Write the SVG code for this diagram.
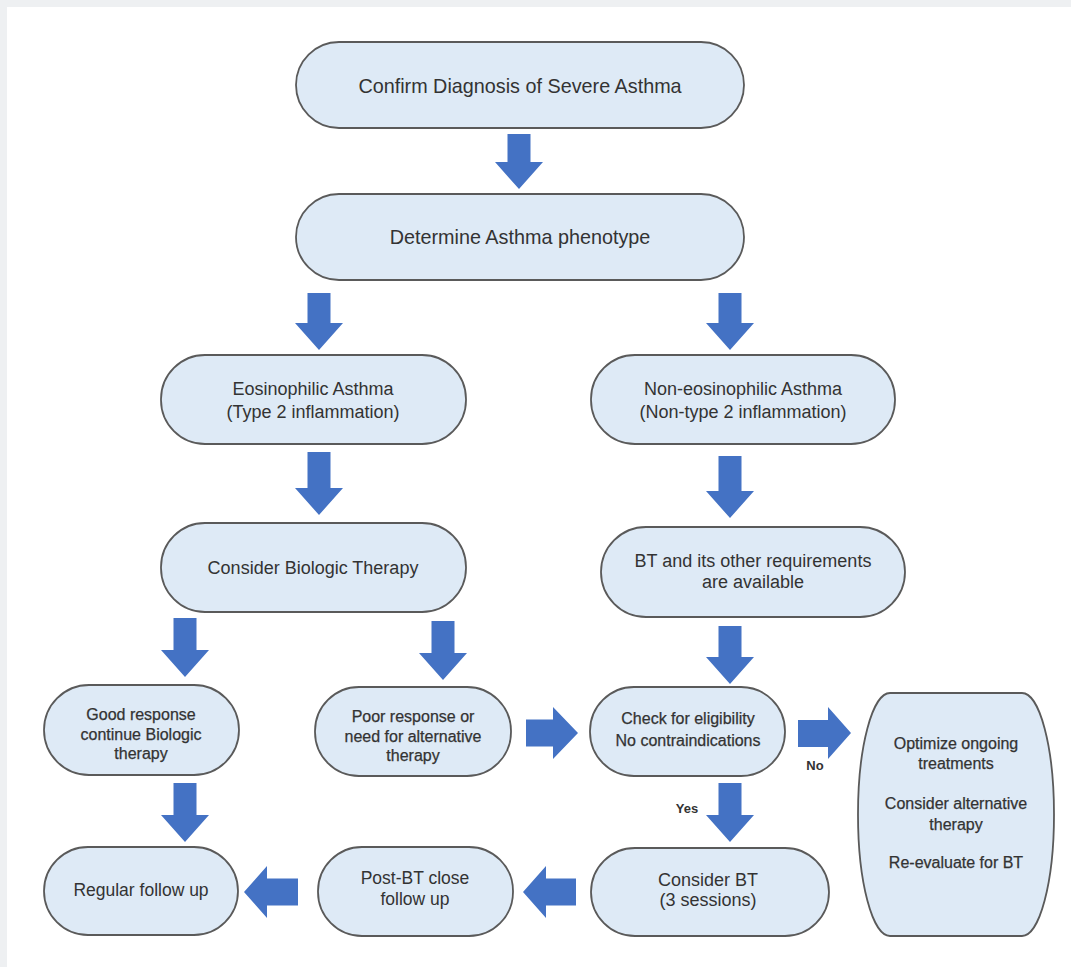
<svg xmlns="http://www.w3.org/2000/svg" width="1071" height="967" viewBox="0 0 1071 967">
<defs>
<style>
.bg{fill:#ffffff}
.frame{fill:#eef0f2}
.node{fill:#deeaf6;stroke:#5a5a5a;stroke-width:1.8}
.t{font-family:"Liberation Sans",Arial,sans-serif;fill:#333333;text-anchor:middle}
.big{font-size:19.8px}
.mid{font-size:18px}
.sm{font-size:16px;stroke:#333333;stroke-width:0.25}
.lbl{font-family:"Liberation Sans",Arial,sans-serif;font-size:13px;font-weight:bold;fill:#333333;text-anchor:middle}
.arr{fill:#4472c4}
</style>
</defs>
<rect class="bg" x="0" y="0" width="1071" height="967"/>
<rect class="frame" x="0" y="0" width="1071" height="7"/>
<rect class="frame" x="0" y="0" width="7" height="967"/>

<g id="connectors">
<path class="arr" d="M507.5,134 H530.5 V162 H543 L519,189 L495,162 H507.5 Z"/>
<path class="arr" d="M307.5,293 H330.5 V323 H343 L319,350 L295,323 H307.5 Z"/>
<path class="arr" d="M718.5,293 H741.5 V323 H754 L730,350 L706,323 H718.5 Z"/>
<path class="arr" d="M307.5,452 H330.5 V488 H343 L319,515 L295,488 H307.5 Z"/>
<path class="arr" d="M718.5,456 H741.5 V491 H754 L730,518 L706,491 H718.5 Z"/>
<path class="arr" d="M173.5,618 H196.5 V650 H209 L185,677 L161,650 H173.5 Z"/>
<path class="arr" d="M431.5,621 H454.5 V653 H467 L443,680 L419,653 H431.5 Z"/>
<path class="arr" d="M718.5,626 H741.5 V657 H754 L730,684 L706,657 H718.5 Z"/>
<path class="arr" d="M718.5,783 H741.5 V815 H754 L730,842 L706,815 H718.5 Z"/>
<path class="arr" d="M173.5,783 H196.5 V815 H209 L185,842 L161,815 H173.5 Z"/>
<path class="arr" d="M526,719.5 V746.5 H553 V759 L578,733 L553,707 V719.5 Z"/>
<path class="arr" d="M798,720 V747 H828 V759 L851,733 L828,707 V720 Z"/>
<path class="arr" d="M298,878.5 V905.5 H267 V918 L244,892 L267,866 V878.5 Z"/>
<path class="arr" d="M576,878.5 V905.5 H546 V918 L523,892 L546,866 V878.5 Z"/>
<text class="lbl" x="687" y="813">Yes</text>
<text class="lbl" x="815" y="770">No</text>
</g>

<g id="n1"><rect class="node" x="296" y="42" width="448" height="86" rx="43" ry="43"/>
<text class="t big" x="520" y="93">Confirm Diagnosis of Severe Asthma</text></g>

<g id="n2"><rect class="node" x="296" y="194" width="448" height="86" rx="43" ry="43"/>
<text class="t big" x="520" y="244">Determine Asthma phenotype</text></g>

<g id="n3"><rect class="node" x="161" y="355" width="305" height="89" rx="44" ry="44"/>
<text class="t mid" x="313" y="395">Eosinophilic Asthma</text>
<text class="t mid" x="313" y="418">(Type 2 inflammation)</text></g>

<g id="n4"><rect class="node" x="591" y="355" width="304" height="89" rx="44" ry="44"/>
<text class="t mid" x="743" y="395">Non-eosinophilic Asthma</text>
<text class="t mid" x="743" y="418">(Non-type 2 inflammation)</text></g>

<g id="n5"><rect class="node" x="161" y="523" width="305" height="89" rx="44" ry="44"/>
<text class="t mid" x="313" y="574">Consider Biologic Therapy</text></g>

<g id="n6"><rect class="node" x="601" y="527" width="304" height="90" rx="45" ry="45"/>
<text class="t mid" x="753" y="567">BT and its other requirements</text>
<text class="t mid" x="753" y="588">are available</text></g>

<g id="n7"><rect class="node" x="44" y="685" width="195" height="90" rx="45" ry="45"/>
<text class="t sm" x="141" y="720">Good response</text>
<text class="t sm" x="141" y="740">continue Biologic</text>
<text class="t sm" x="141" y="759">therapy</text></g>

<g id="n8"><rect class="node" x="315" y="687" width="196" height="89" rx="44" ry="44"/>
<text class="t sm" x="413" y="722">Poor response or</text>
<text class="t sm" x="413" y="742">need for alternative</text>
<text class="t sm" x="413" y="761">therapy</text></g>

<g id="n9"><rect class="node" x="590" y="687" width="195" height="89" rx="44" ry="44"/>
<text class="t sm" x="688" y="724">Check for eligibility</text>
<text class="t sm" x="688" y="746">No contraindications</text></g>

<g id="n10"><rect class="node" x="858" y="693" width="196" height="243" rx="32" ry="121"/>
<text class="t sm" x="956" y="749">Optimize ongoing</text>
<text class="t sm" x="956" y="769">treatments</text>
<text class="t sm" x="956" y="809">Consider alternative</text>
<text class="t sm" x="956" y="830">therapy</text>
<text class="t sm" x="956" y="868">Re-evaluate for BT</text></g>

<g id="n11"><rect class="node" x="44" y="847" width="194" height="88" rx="44" ry="44"/>
<text class="t mid" x="141" y="896" style="font-size:17.5px">Regular follow up</text></g>

<g id="n12"><rect class="node" x="318" y="847" width="195" height="89" rx="44" ry="44"/>
<text class="t mid" x="415" y="884" style="font-size:17.5px">Post-BT close</text>
<text class="t mid" x="415" y="905" style="font-size:17.5px">follow up</text></g>

<g id="n13"><rect class="node" x="591" y="848" width="238" height="88" rx="44" ry="44"/>
<text class="t mid" x="708" y="886">Consider BT</text>
<text class="t mid" x="708" y="906">(3 sessions)</text></g>
</svg>
